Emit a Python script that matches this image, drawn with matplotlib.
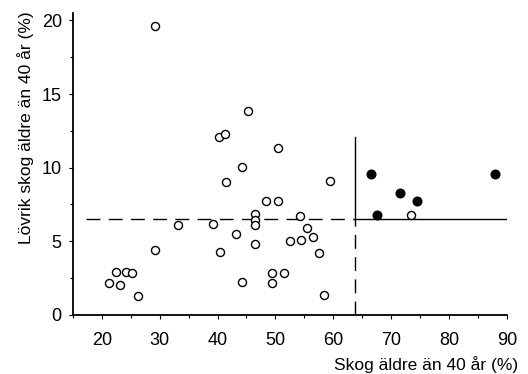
import numpy as np
import matplotlib.pyplot as plt
from matplotlib.ticker import MultipleLocator

plt.rcParams['font.family'] = ['Liberation Sans', 'DejaVu Sans']

# open circles: (skog aldre an 40 ar, lovrik skog)
open_x = [29.2, 45.3, 40.3, 41.3, 44.3, 50.4, 41.4, 59.4, 48.3, 50.4,
          46.4, 46.4, 46.4, 54.3, 33.2, 39.3, 55.5, 43.2, 52.5, 54.4,
          56.5, 46.4, 29.2, 40.4, 57.5, 49.4, 51.4, 49.4, 44.3, 58.4,
          21.3, 22.4, 23.1, 24.2, 25.2, 26.3, 73.5]
open_y = [19.6, 13.85, 12.07, 12.3, 10.03, 11.32, 9.04, 9.1, 7.77, 7.77,
          6.83, 6.45, 6.1, 6.71, 6.1, 6.17, 5.9, 5.51, 5.04, 5.1,
          5.27, 4.83, 4.38, 4.27, 4.18, 2.82, 2.82, 2.17, 2.26, 1.36,
          2.17, 2.94, 2.01, 2.94, 2.82, 1.29, 6.78]
# filled circles
fill_x = [66.5, 87.9, 71.6, 74.5, 67.6]
fill_y = [9.54, 9.56, 8.27, 7.77, 6.8]

x_cut = 63.8
y_cut = 6.5

fig = plt.figure(figsize=(5.28, 3.74), dpi=100)
ax = fig.add_axes([0.138, 0.158, 0.822, 0.807])

ax.plot(open_x, open_y, 'o', ms=5.8, mfc='white', mec='black', mew=1.0, zorder=3)
ax.plot(fill_x, fill_y, 'o', ms=6.2, mfc='black', mec='black', mew=1.0, zorder=3)

# threshold lines
ax.plot([17.2, x_cut], [y_cut, y_cut], color='black', lw=1.0, dashes=(10, 6))
ax.plot([x_cut, x_cut], [0, y_cut], color='black', lw=1.0, dashes=(10, 6))
ax.plot([x_cut, x_cut], [y_cut, 12.05], color='black', lw=1.0)
ax.plot([x_cut, 90.3], [y_cut, y_cut], color='black', lw=1.0)

ax.set_xlim(15, 90)
ax.set_ylim(0, 20.5)
ax.xaxis.set_major_locator(MultipleLocator(10))
ax.xaxis.set_minor_locator(MultipleLocator(5))
ax.yaxis.set_major_locator(MultipleLocator(5))
ax.yaxis.set_minor_locator(MultipleLocator(2.5))
ax.tick_params(which='both', direction='out', labelsize=13, width=0.8)
ax.tick_params(which='major', length=3)
ax.tick_params(which='minor', length=2)
ax.tick_params(axis='x', which='major', pad=9)
ax.tick_params(axis='y', which='major', pad=5)
for s in ['top', 'right']:
    ax.spines[s].set_visible(False)
ax.spines['left'].set_linewidth(1.3)
ax.spines['bottom'].set_linewidth(1.3)

ax.set_xlabel('Skog äldre än 40 år (%)', fontsize=12.5, ha='right')
ax.xaxis.set_label_coords(1.027, -0.135)
ax.set_ylabel('Lövrik skog äldre än 40 år (%)', fontsize=12.5)
ax.yaxis.set_label_coords(-0.09, 0.62)

fig.savefig('out.png', dpi=100)
